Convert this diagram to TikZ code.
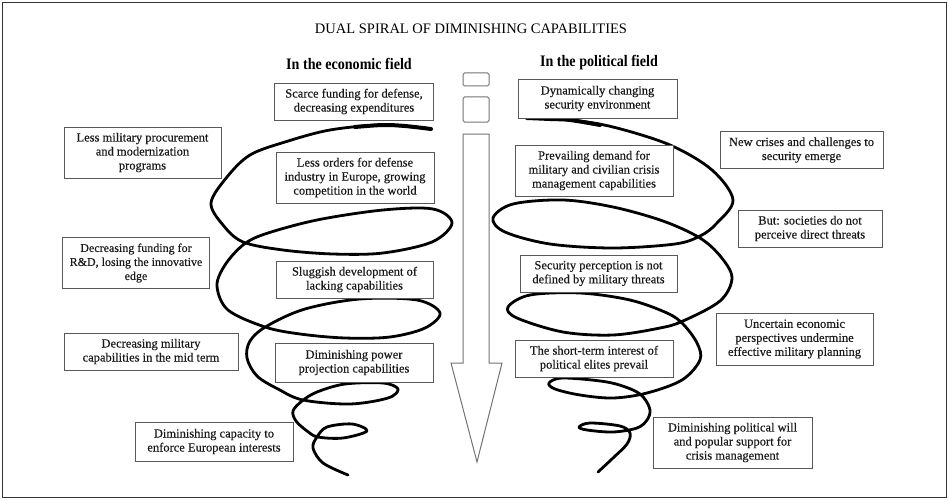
\documentclass[tikz,border=0pt]{standalone}
\usepackage{fontspec}
\setmainfont{Liberation Serif}
\newfontfamily\boxfont[FakeBold=0.35]{Liberation Serif}
\tikzset{
  box/.style={draw=black!65, line width=0.9pt, align=center, inner sep=0pt,
    text=black!90, font=\boxfont\fontsize{12.5}{14}\selectfont},
  spiral/.style={draw=black, line width=2.8pt, line cap=round, line join=round},
  arrowline/.style={draw=black!55, line width=1pt, line join=miter},
  hdr/.style={font=\fontsize{16}{18}\selectfont\bfseries, inner sep=0pt},
}
\begin{document}
\begin{tikzpicture}[x=1pt,y=-1pt]
\useasboundingbox (0,0) rectangle (949,500);
\draw[black!80, line width=1.4pt] (2.5,2.5) rectangle (946.5,497.5);

\node[font=\fontsize{14.5}{16}\selectfont, inner sep=0pt] (title) at (471,29) {DUAL SPIRAL OF DIMINISHING CAPABILITIES};
\node[hdr] (hl) at (349,64) {\scalebox{0.88}[1]{In the economic field}};
\node[hdr] (hr) at (599,63) {\scalebox{0.88}[1]{In the political field}};

% center arrow
\draw[arrowline, rounded corners=1.5pt] (463,73) rectangle (489,86);
\draw[arrowline, rounded corners=1.5pt] (463,97) rectangle (489,122);
\draw[arrowline] (463,134) -- (489,134) -- (489,363) -- (502,363) -- (477,462) -- (451,363) -- (463,363) -- cycle;

% left spiral
\draw[spiral] plot[smooth, tension=0.55] coordinates {
 (431,129) (383,125) (330,130) (285,142) (250,155) (227,177) (211,203) (223,225) (243,242)
 (283,250) (333,254) (383,253) (432,242) (452,223) (433,209) (383,210) (317,220) (265,234)
 (243,245) (225,265) (217,286) (228,310) (265,327) (300,334) (345,338) (390,337) (425,328)
 (440,313) (417,300) (360,299) (305,309) (267,326) (250,341) (247,358) (257,376) (278,389)
 (303,400) (350,404) (388,398) (398,389) (383,383) (345,384) (317,392) (302,401) (293,411)
 (296,421) (307,431) (318,437) (343,438) (367,431) (352,424) (327,427) (317,437) (313,448)
 (323,463) (348,475)};
\draw[black, line width=4pt, line cap=round] plot[smooth, tension=0.55] coordinates {(431,129) (405,126) (383,125) (355,127)};

% right spiral
\draw[spiral] plot[smooth, tension=0.55] coordinates {
 (527,118) (570,120) (613,127) (670,145) (712,170) (733,200) (716,224) (700,236) (675,244)
 (613,248) (550,244) (505,232) (493,218) (513,204) (563,200) (613,207) (663,221) (700,238)
 (721,257) (732,278) (720,301) (683,321) (660,328) (613,335) (563,332) (517,318) (508,307)
 (530,295) (580,293) (630,300) (667,313) (683,324) (697,343) (700,360) (682,380) (647,393)
 (613,398) (580,395) (555,389) (549,383) (563,378) (607,382) (633,390) (644,398) (650,410)
 (647,420) (637,428) (613,432) (587,430) (579,427) (590,423) (620,426) (630,433) (627,444)
 (613,458) (598,472)};
\draw[black, line width=4pt, line cap=round] plot[smooth, tension=0.55] coordinates {(527,118) (550,119) (570,120) (600,125)};

% left column boxes
\node[box, fill=white, minimum width=159pt, minimum height=37pt] (b1) at (354,101.5) {Scarce funding for defense,\\decreasing expenditures};
\node[box, fill=white, minimum width=158pt, minimum height=51pt] (b2) at (355,177.5) {Less orders for defense\\industry in Europe, growing\\competition in the world};
\node[box, fill=white, minimum width=157pt, minimum height=37pt] (b3) at (354.5,279.5) {Sluggish development of\\lacking capabilities};
\node[box, fill=white, minimum width=158pt, minimum height=39pt] (b4) at (354,362.5) {Diminishing power\\projection capabilities};

\node[box, minimum width=157pt, minimum height=51pt] (b5) at (142.5,152.5) {Less military procurement\\and modernization\\programs};
\node[box, minimum width=147pt, minimum height=51pt, font=\boxfont\fontsize{12}{14}\selectfont] (b6) at (136,263) {Decreasing funding for\\R\&D, losing the innovative\\edge};
\node[box, minimum width=174pt, minimum height=37pt] (b7) at (151,351.5) {Decreasing military\\capabilities in the mid term};
\node[box, minimum width=158pt, minimum height=39pt] (b8) at (214,441.5) {Diminishing capacity to\\enforce European interests};

% right column boxes
\node[box, fill=white, minimum width=159pt, minimum height=39pt] (c1) at (597.5,98.5) {Dynamically changing\\security environment};
\node[box, fill=white, minimum width=158pt, minimum height=51pt] (c2) at (594,170.5) {Prevailing demand for\\military and civilian crisis\\management capabilities};
\node[box, fill=white, minimum width=157pt, minimum height=37pt] (c3) at (598.5,273.5) {Security perception is not\\defined by military threats};
\node[box, fill=white, minimum width=158pt, minimum height=37pt] (c4) at (594,358.5) {The short-term interest of\\political elites prevail};

\node[box, minimum width=163pt, minimum height=37pt] (c5) at (801.5,150) {New crises and challenges to\\security emerge};
\node[box, minimum width=144pt, minimum height=37pt] (c6) at (810,228.5) {But: societies do not\\perceive direct threats};
\node[box, minimum width=157pt, minimum height=52pt] (c7) at (794.5,339) {Uncertain economic\\perspectives undermine\\effective military planning};
\node[box, minimum width=159pt, minimum height=51pt] (c8) at (732.5,442.5) {Diminishing political will\\and popular support for\\crisis management};
\end{tikzpicture}
\end{document}
